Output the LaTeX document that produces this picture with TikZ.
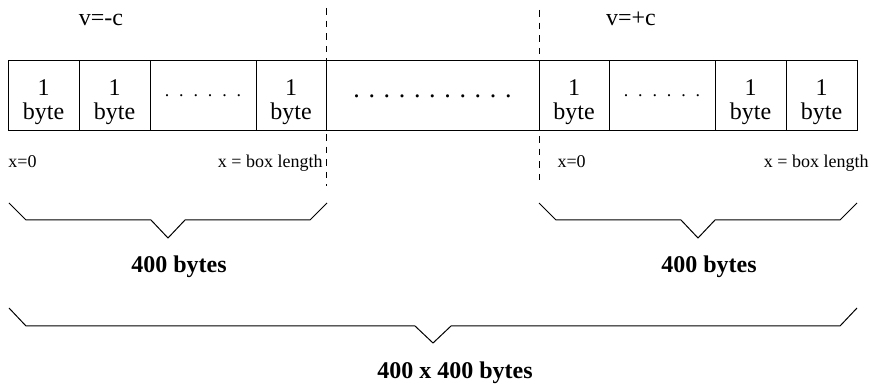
\documentclass[tikz,border=0pt]{standalone}
\usepackage{fontspec}
\setmainfont{Liberation Serif}
\usetikzlibrary{positioning}
\newcommand{\onebyte}{\rule{0pt}{13.6pt}1\\byte}

\begin{document}
\begin{tikzpicture}[x=0.5pt, y=-0.5pt, line width=0.5pt,
    bytecell/.style={draw, outer sep=0pt, inner sep=0pt, minimum height=35pt,
      align=center, font=\fontsize{12}{12}\selectfont},
    gapcell/.style={draw, outer sep=0pt, inner sep=0pt, minimum height=35pt,
      font=\fontsize{13}{13}\selectfont\spaceskip 3.25pt\relax},
    vlabel/.style={font=\fontsize{12}{12}\selectfont, inner sep=0pt, anchor=base},
    xlabel/.style={font=\fontsize{9}{9}\selectfont, inner sep=0pt},
    total/.style={font=\fontsize{12}{12}\selectfont\bfseries, inner sep=0pt, anchor=base},
    cut/.style={dash pattern=on 3.3pt off 3pt}]

  \path[fill=white] (0,0) rectangle (870,381);

  % Byte row
  \node[bytecell, minimum width=35.5pt, anchor=north west] (c1) at (8,61) {\onebyte};
  \node[bytecell, minimum width=35.5pt, right=0pt of c1] (c2) {\onebyte};
  \node[gapcell, minimum width=53pt, right=0pt of c2,
        font=\fontsize{9}{9}\selectfont\spaceskip 4.2pt\relax] (c3) {. . . . . .};
  \node[bytecell, minimum width=35pt, right=0pt of c3] (c4) {\onebyte};
  \node[gapcell, minimum width=106.5pt, right=0pt of c4] (c5) {. . . . . . . . . . .};
  \node[bytecell, minimum width=35pt, right=0pt of c5] (c6) {\onebyte};
  \node[gapcell, minimum width=53pt, right=0pt of c6,
        font=\fontsize{9}{9}\selectfont\spaceskip 4.2pt\relax] (c7) {. . . . . .};
  \node[bytecell, minimum width=35.5pt, right=0pt of c7] (c8) {\onebyte};
  \node[bytecell, minimum width=35.5pt, right=0pt of c8] (c9) {\onebyte};

  % Box edges
  \draw[cut] (c5.west |- 0,8) -- (c5.west |- 0,186);
  \draw[cut] (c5.east |- 0,10) -- (c5.east |- 0,186);

  % Labels
  \node[vlabel] (vneg) at (101,26) {v=-c};
  \node[vlabel] (vpos) at (631,26) {v=+c};
  \node[xlabel, anchor=base west] (xzeroA) at (8,168) {x=0};
  \node[xlabel, anchor=base east] (xlenA) at (323,168) {x = box length};
  \node[xlabel, anchor=base west] (xzeroB) at (557,168) {x=0};
  \node[xlabel, anchor=base east] (xlenB) at (869,168) {x = box length};

  % Braces
  \draw (9,203) -- (26,220) -- (151,220) -- (168,238) -- (185,220) -- (310,220) -- (327,203);
  \draw (539,203) -- (556,220) -- (681,220) -- (698,238) -- (715,220) -- (840,220) -- (857,203);
  \draw (9,308) -- (26,326) -- (415,326) -- (433,343) -- (451,326) -- (840,326) -- (857,308);

  \node[total] (sumA) at (179,273) {400 bytes};
  \node[total] (sumB) at (709,273) {400 bytes};
  \node[total] (sumAll) at (455,378) {400 x 400 bytes};
\end{tikzpicture}
\end{document}
